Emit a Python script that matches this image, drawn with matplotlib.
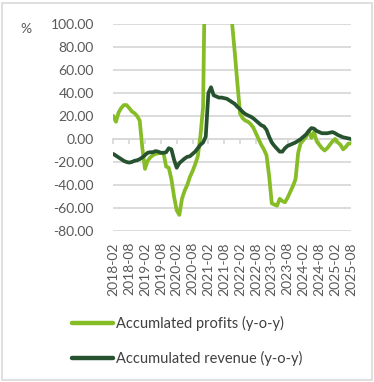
import numpy as np
import matplotlib
matplotlib.use("Agg")
import matplotlib.pyplot as plt
from matplotlib.patches import Rectangle

plt.rcParams['font.family'] = ['Lato', 'DejaVu Sans']

# monthly series, 2018-02 .. 2025-08
months = [f"{y}-{m:02d}" for y in range(2018, 2026) for m in range(1, 13)]
months = months[months.index("2018-02"):months.index("2025-08") + 1]

profits = [
    20, 15, 23, 27, 29.5, 29.5, 27, 24, 22.5, 20, 16, -8,
    -26, -19, -16, -14, -13, -12.5, -12, -12, -24, -25, -35, -50,
    -62, -66, -52, -45, -40, -33, -28, -22, -15, 3, 28, 200,
    420, 520, 610, 640, 560, 470, 380, 280, 180, 100, 75, 48,
    22, 18, 16, 15, 13, 10, 5, 0, -5, -9, -14, -32,
    -56, -57, -58, -52, -54, -55, -51, -46, -41, -35, -12, -3,
    -1, 2, 7, 1, 6, -2, -5, -8, -10, -8, -5, -2,
    0, -3, -5, -9, -7, -4, -4,
]
revenue = [
    -13, -14.5, -16, -17.5, -19, -20, -20.5, -20, -19, -18.5, -17.5, -16,
    -14, -12, -11.5, -11.5, -10.5, -11, -12, -12, -11.5, -8, -9, -18,
    -25, -21, -19, -17, -15.5, -15, -13, -11, -8, -5, -3, 2,
    40, 45, 38, 37, 36, 36, 35.5, 35, 33.5, 32, 30.5, 28,
    26, 23.5, 21.7, 20.5, 19.5, 18, 16, 14, 12, 11, 8, 2,
    -3, -6, -8.5, -11, -11, -8, -6, -5, -4, -3, -1.5, 0,
    2, 4, 7, 9.5, 9, 7, 6, 5, 5, 5, 5.5, 6,
    5, 3.5, 2.5, 1.5, 1, 0.5, 0,
]
yticks = [100, 80, 60, 40, 20, 0, -20, -40, -60, -80]

light_green = '#86bc25'
dark_green = '#27522f'
grid_grey = '#d9d9d9'
text_grey = '#595959'

fig = plt.figure(figsize=(3.74, 3.82), dpi=100)
ax = fig.add_axes([113.3 / 374, 1 - 231 / 382, (351 - 113.3) / 374, (231 - 24) / 382])

x = np.arange(len(months))
ax.plot(x, profits, color=light_green, lw=2.7, solid_capstyle='round',
        label='Accumlated profits (y-o-y)', zorder=3)
ax.plot(x, revenue, color=dark_green, lw=2.7, solid_capstyle='round',
        label='Accumulated revenue (y-o-y)', zorder=4)

ax.set_xlim(0, len(months) - 1)
ax.set_ylim(-80, 100)

ax.set_yticks(yticks)
ax.set_yticklabels([f"{v:.2f}" for v in yticks])
ax.tick_params(axis='y', length=0, pad=14, labelsize=10, labelcolor=text_grey)
ax.yaxis.grid(True, color=grid_grey, lw=1.3)
ax.set_axisbelow(True)

for s in ['top', 'right', 'left']:
    ax.spines[s].set_visible(False)
ax.spines['bottom'].set_position(('data', 0))
ax.spines['bottom'].set_color(grid_grey)
ax.spines['bottom'].set_linewidth(1.3)

tick_pos = x[::6]
ax.set_xticks(tick_pos)
ax.tick_params(axis='x', direction='out', length=3.5, width=1.3, color=grid_grey,
               labelbottom=False)

sec = ax.secondary_xaxis(0)
sec.set_xticks(tick_pos)
sec.set_xticklabels([months[i] for i in tick_pos], rotation=90)
sec.tick_params(length=0, pad=8, labelsize=10, labelcolor=text_grey)
sec.spines['bottom'].set_visible(False)

fig.text(26 / 374, 1 - 29 / 382, '%', fontsize=10, color=text_grey,
         ha='center', va='center')

fig.legend(loc='upper left', bbox_to_anchor=(72 / 374, 1 - 316 / 382),
           frameon=False, fontsize=10.5, handlelength=2.8, handletextpad=0.2,
           labelspacing=1.35, labelcolor='#404040', borderaxespad=0, borderpad=0)
for line in fig.legends[0].get_lines():
    line.set_linewidth(3.2)

fig.add_artist(Rectangle((2 / 374, 2 / 382), 370 / 374, 377 / 382,
                         transform=fig.transFigure, fill=False,
                         edgecolor=grid_grey, lw=1.2))

fig.savefig('out.png', dpi=100)
